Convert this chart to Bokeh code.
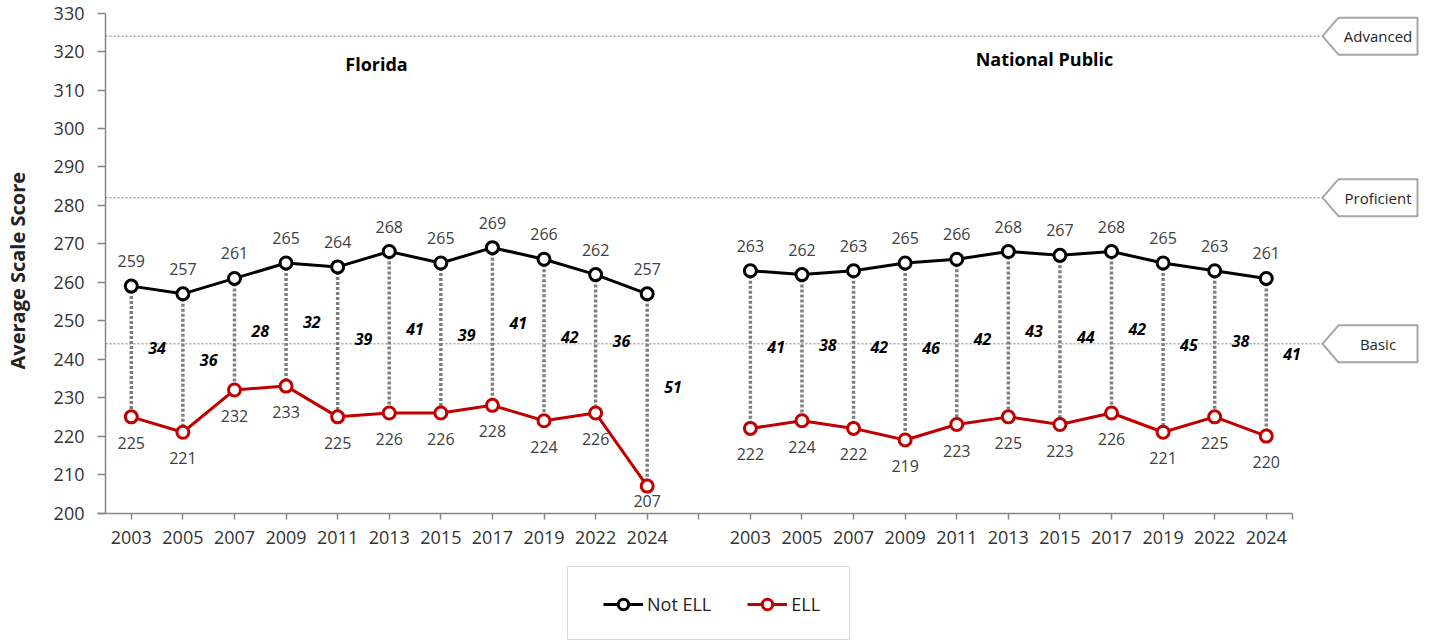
import math
from bokeh.plotting import figure
from bokeh.models import Range1d, FixedTicker, Legend, LegendItem, ColumnDataSource
from bokeh.core.properties import value
from bokeh.embed import file_html
from bokeh.resources import INLINE

# ---------------- data ----------------
years = ["2003", "2005", "2007", "2009", "2011", "2013", "2015", "2017", "2019", "2022", "2024"]
group_titles = ["Florida", "National Public"]
fl_not_ell = [259, 257, 261, 265, 264, 268, 265, 269, 266, 262, 257]
fl_ell = [225, 221, 232, 233, 225, 226, 226, 228, 224, 226, 207]
fl_gap = [34, 36, 28, 32, 39, 41, 39, 41, 42, 36, 51]
np_not_ell = [263, 262, 263, 265, 266, 268, 267, 268, 265, 263, 261]
np_ell = [222, 224, 222, 219, 223, 225, 223, 226, 221, 225, 220]
np_gap = [41, 38, 42, 46, 42, 43, 44, 42, 45, 38, 41]
level_names = ["Advanced", "Proficient", "Basic"]
level_scores = [324, 282, 244]
y_ticks = list(range(200, 331, 10))
y_title = "Average Scale Score"

# ---------------- layout constants (canvas pixels) ----------------
W, H = 1430, 640
AXIS_X_PX = 105.0          # canvas x of the y axis line
AXIS_Y_PX = 512.5          # canvas y of the x axis line
TOP_PX = 12.6              # canvas y of the 330 tick
Y0, Y1 = 200, 330
PX_PER_Y = (AXIS_Y_PX - TOP_PX) / (Y1 - Y0)
PX_PER_X = 51.59
X0 = -0.5
X_START = X0 - AXIS_X_PX / PX_PER_X
X_END = X_START + W / PX_PER_X
Y_MAX = Y1 + TOP_PX / PX_PER_Y
Y_MIN = Y_MAX - H / PX_PER_Y


def px_x(px):
    return X_START + px / PX_PER_X


def px_y(py):
    return Y_MAX - py / PX_PER_Y


TIP, BODY_L, BODY_R = px_x(1322), px_x(1338), px_x(1417)
BOX_HALF = 18.5 / PX_PER_Y

BLACK = "#000000"
RED = "#C00000"
GREY = "#7F7F7F"
TXT = "#333333"
FONT = "Open Sans"

n = len(years)
fl_x = list(range(n))
np_x = [i + n + 1 for i in range(n)]
all_x = fl_x + np_x

p = figure(width=W, height=H, x_range=Range1d(X_START, X_END), y_range=Range1d(Y_MIN, Y_MAX),
           output_backend="svg", toolbar_location=None,
           min_border_left=0, min_border_right=0, min_border_top=0, min_border_bottom=0)
p.outline_line_color = None
p.xgrid.visible = False
p.ygrid.visible = False
p.background_fill_color = "white"
p.border_fill_color = "white"

# x axis (pinned at the 200 line)
xa = p.xaxis[0]
xa.fixed_location = Y0
ticks = all_x + [n] + [all_x[-1] + 0.5]
xa.ticker = FixedTicker(ticks=ticks)
overrides = {x: y for x, y in zip(fl_x, years)}
overrides.update({x: y for x, y in zip(np_x, years)})
overrides[n] = ""
overrides[all_x[-1] + 0.5] = ""
xa.major_label_overrides = overrides
xa.bounds = (X0 - 8 / PX_PER_X, all_x[-1] + 0.5)
xa.axis_line_color = "#878787"
xa.axis_line_width = 1.5
xa.major_tick_line_color = "#878787"
xa.major_tick_line_width = 1.5
xa.major_tick_out = 6
xa.major_tick_in = 0
xa.minor_tick_out = 0
xa.minor_tick_in = 0
xa.major_label_standoff = 12
xa.major_label_text_font = FONT
xa.major_label_text_font_size = "18px"
xa.major_label_text_color = TXT

# y axis (pinned at the left edge of the categories)
ya = p.yaxis[0]
ya.fixed_location = X0
ya.ticker = FixedTicker(ticks=y_ticks)
ya.bounds = (Y0, Y1)
ya.axis_line_color = "#878787"
ya.axis_line_width = 1.5
ya.major_tick_line_color = "#878787"
ya.major_tick_line_width = 1.5
ya.major_tick_out = 8
ya.major_tick_in = 0
ya.minor_tick_out = 0
ya.minor_tick_in = 0
ya.major_label_standoff = 13
ya.major_label_text_font = FONT
ya.major_label_text_font_size = "18px"
ya.major_label_text_color = TXT

# y axis title
p.text(x=[px_x(17)], y=[(Y0 + Y1) / 2 - 2], text=[y_title], angle=math.pi / 2,
       text_font=value(FONT), text_font_size="20px", text_font_style="bold",
       text_color="#222222", text_align="center", text_baseline="middle")

# performance level lines and tags
lv_src = ColumnDataSource(dict(
    y=level_scores, name=level_names,
    x0=[X0] * 3, x1=[TIP] * 3,
    xs=[[TIP, BODY_L, BODY_R, BODY_R, BODY_L] for _ in level_scores],
    ys=[[v, v + BOX_HALF, v + BOX_HALF, v - BOX_HALF, v - BOX_HALF] for v in level_scores],
    tx=[(BODY_L + BODY_R) / 2] * 3,
))
p.segment(x0="x0", x1="x1", y0="y", y1="y", source=lv_src, line_color="#A6A6A6",
          line_width=1.5, line_dash="2 2")
p.patches(xs="xs", ys="ys", source=lv_src, fill_color="white", line_color="#A6A6A6", line_width=2)
p.text(x="tx", y="y", text="name", source=lv_src, text_font=value(FONT), text_font_size="15px",
       text_color="#262626", text_align="center", text_baseline="middle")

# gap lines
not_ell = fl_not_ell + np_not_ell
ell = fl_ell + np_ell
gaps = fl_gap + np_gap
p.segment(x0=all_x, x1=all_x, y0=not_ell, y1=ell, line_color=GREY, line_width=3.5,
          line_dash="3 2")

# series
fl_src = ColumnDataSource(dict(x=fl_x, a=fl_not_ell, b=fl_ell))
np_src = ColumnDataSource(dict(x=np_x, a=np_not_ell, b=np_ell))
lines_black, lines_red, pts_black, pts_red = [], [], [], []
for src in (fl_src, np_src):
    lines_black.append(p.line("x", "a", source=src, line_color=BLACK, line_width=3))
    lines_red.append(p.line("x", "b", source=src, line_color=RED, line_width=3))
for src in (fl_src, np_src):
    pts_black.append(p.scatter("x", "a", source=src, marker="circle", size=12, fill_color="white",
                               line_color=BLACK, line_width=3))
    pts_red.append(p.scatter("x", "b", source=src, marker="circle", size=12, fill_color="white",
                             line_color=RED, line_width=3))

# value labels
lab_src = ColumnDataSource(dict(
    x=all_x, a=not_ell, b=ell,
    at=[str(v) for v in not_ell], bt=[str(v) for v in ell],
    boff=[min(26, (v - Y0) * PX_PER_Y - 12) for v in ell],
    gx=[x + 0.5 for x in all_x], gy=[(a + b) / 2 for a, b in zip(not_ell, ell)],
    gt=[str(g) for g in gaps],
))
p.text(x="x", y="a", text="at", source=lab_src, y_offset=-25, text_font=value(FONT),
       text_font_size="16px", text_color="#404040", text_align="center", text_baseline="middle")
p.text(x="x", y="b", text="bt", source=lab_src, y_offset="boff", text_font=value(FONT),
       text_font_size="16px", text_color="#404040", text_align="center", text_baseline="middle")
p.text(x="gx", y="gy", text="gt", source=lab_src, y_offset=-3, text_font=value(FONT),
       text_font_size="16px", text_font_style="bold italic", text_color="#000000",
       text_align="center", text_baseline="middle")

# group titles
p.text(x=[px_x(376), px_x(1044)], y=[px_y(63), px_y(58)], text=group_titles,
       text_font=value(FONT), text_font_size="18px", text_font_style="bold",
       text_color="#000000", text_align="center", text_baseline="middle")

# legend frame
p.quad(left=[px_x(567)], right=[px_x(849)], top=[px_y(566)], bottom=[px_y(639)],
       fill_color="white", line_color="#D9D9D9", line_width=1)

# legend items (borderless legend: padding collapses to 0)
ITEM_H = 26
legend = Legend(items=[LegendItem(label="Not ELL", renderers=[lines_black[0], pts_black[0]]),
                       LegendItem(label="ELL", renderers=[lines_red[0], pts_red[0]])],
                orientation="horizontal",
                location=(603, H - (604 + ITEM_H / 2)), padding=0, spacing=36,
                glyph_width=40, glyph_height=ITEM_H, label_height=ITEM_H, label_standoff=4,
                margin=0, border_line_color=None, background_fill_alpha=0,
                label_text_font=FONT, label_text_font_size="18px", label_text_color="#222222")
p.add_layout(legend)

open("out.html", "w").write(file_html(p, INLINE))
